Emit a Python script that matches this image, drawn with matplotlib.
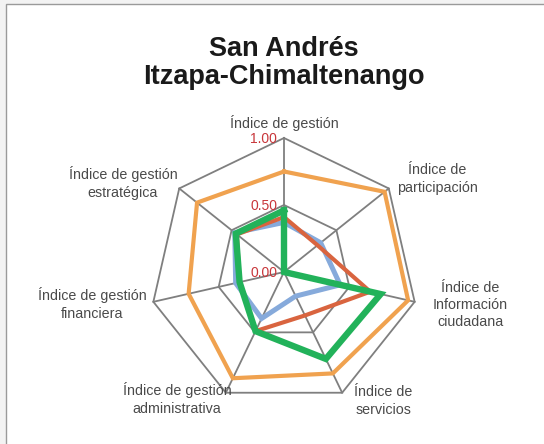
import numpy as np
import matplotlib
matplotlib.use('Agg')
import matplotlib.pyplot as plt
import matplotlib.patches as patches
import matplotlib.transforms as mtransforms

plt.rcParams['font.family'] = ['Liberation Sans', 'DejaVu Sans']

categories = ['Índice de gestión',
              'Índice de\nparticipación',
              'Índice de\nInformación\nciudadana',
              'Índice de\nservicios',
              'Índice de gestión\nadministrativa',
              'Índice de gestión\nfinanciera',
              'Índice de gestión\nestratégica']

# series (same axis order as categories)
orange_vals = [0.75, 0.96, 0.95, 0.84, 0.88, 0.73, 0.83]
blue_vals = [0.37, 0.35, 0.43, 0.20, 0.385, 0.37, 0.47]
red_vals = [0.41, 0.32, 0.66, 0.36, 0.49, 0.34, 0.45]
green_vals = [0.46, 0.00, 0.74, 0.72, 0.49, 0.34, 0.46]

ring_levels = [0.0, 0.5, 1.0]
ring_labels = ['0.00', '0.50', '1.00']

W, H = 544, 444
fig = plt.figure(figsize=(W / 100, H / 100), dpi=100)
fig.patch.set_facecolor('#f3f3f3')
frame = patches.Rectangle((6 / W, -0.1), 1.2, 1.1 - 4 / H,
                          transform=fig.transFigure, facecolor='white',
                          edgecolor='#9a9a9a', linewidth=1.0, zorder=-10)
fig.patches.append(frame)

cx, cy, rad = 284, 272, 134
ax = fig.add_axes([(cx - rad) / W, (H - cy - rad) / H, 2 * rad / W, 2 * rad / H],
                  projection='polar')
ax.set_theta_offset(np.pi / 2)
ax.set_theta_direction(-1)
ax.set_ylim(0, 1)
ax.patch.set_alpha(0)
ax.spines['polar'].set_visible(False)
ax.grid(False)
ax.set_xticks([])
ax.set_yticks([])

n = len(categories)
theta = np.linspace(0, 2 * np.pi, n, endpoint=False)
closed = np.append(theta, theta[0])

grid_c = '#7f7f7f'
for lv in ring_levels[1:]:
    ax.plot(closed, [lv] * (n + 1), color=grid_c, lw=1.3, zorder=1, clip_on=False)
for t in theta:
    ax.plot([t, t], [0, 1], color=grid_c, lw=1.3, zorder=1, clip_on=False)


def draw(vals, color, lw, z):
    v = np.append(vals, vals[0])
    ax.plot(closed, v, color=color, lw=lw, zorder=z, clip_on=False,
            solid_joinstyle='miter')


draw(orange_vals, '#f0a24f', 3.0, 3)
draw(blue_vals, '#86aadb', 3.6, 4)
draw(red_vals, '#d9643f', 3.0, 5)
draw(green_vals, '#22b25a', 4.6, 6)

off = mtransforms.offset_copy(ax.transData, fig=fig, x=-5, y=-1, units='points')
for lv, lb in zip(ring_levels, ring_labels):
    ax.text(0, lv, lb, transform=off, ha='right', va='center',
            color='#c8363a', fontsize=10, zorder=7)

label_pos = [(284, 123), (437, 179), (470, 305), (383, 401),
             (177, 399), (92, 304), (123, 183)]
for lb, (x, y) in zip(categories, label_pos):
    fig.text(x / W, 1 - y / H, lb, ha='center', va='center', fontsize=10.3,
             color='#4a4a4a', linespacing=1.3)

fig.text(284 / W, 1 - 63 / H, 'San Andrés\nItzapa-Chimaltenango', ha='center',
         va='center', fontsize=19.5, fontweight='bold', color='#1a1a1a',
         linespacing=1.15)

fig.savefig('out.png', dpi=100, facecolor=fig.get_facecolor())
